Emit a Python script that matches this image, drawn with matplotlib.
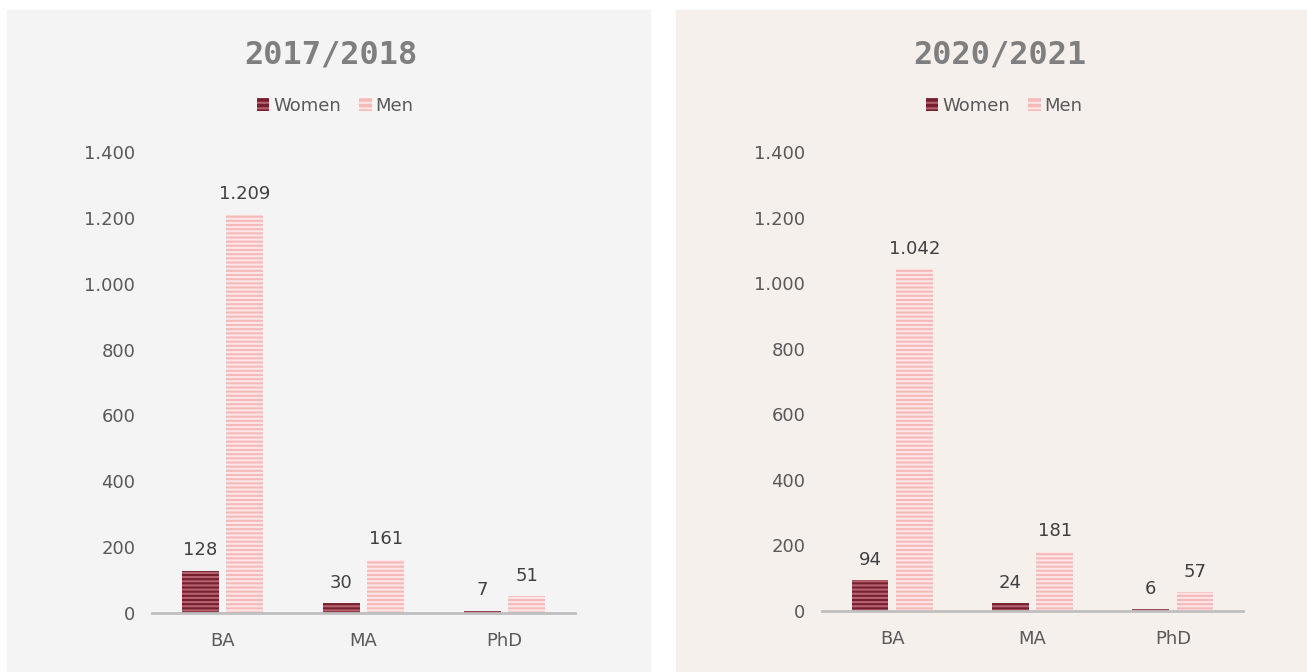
import matplotlib.pyplot as plt
from matplotlib.patches import Rectangle, Patch

# === Data ===
levels = ["BA", "MA", "PhD"]
years = ["2017/2018", "2020/2021"]
women_1718 = [128, 30, 7]
men_1718 = [1209, 161, 51]
women_2021 = [94, 24, 6]
men_2021 = [1042, 181, 57]
yticks = [0, 200, 400, 600, 800, 1000, 1200, 1400]

# === Style ===
W_FACE, W_STRIPE = "#76202f", "#b5636f"
M_FACE, M_STRIPE = "#f6b9b9", "#fde6e6"
plt.rcParams["hatch.linewidth"] = 1.5


def fmt(v):
    return f"{v:,}".replace(",", ".")


fig = plt.figure(figsize=(13.07, 6.72), dpi=100)
fig.patch.set_facecolor("white")

# panel backgrounds (drawn behind the axes)
fig.patches.append(Rectangle((7 / 1307, 0), 643 / 1307, 662 / 672,
                             transform=fig.transFigure, color="#f4f4f4", zorder=-1))
fig.patches.append(Rectangle((676 / 1307, 0), 631 / 1307, 662 / 672,
                             transform=fig.transFigure, color="#f6f0ed", zorder=-1))

panels = [
    (years[0], women_1718, men_1718, [152 / 1307, 59 / 672, 423 / 1307, 461 / 672], 331, 335),
    (years[1], women_2021, men_2021, [822 / 1307, 61 / 672, 421 / 1307, 459 / 672], 1000, 1004),
]

for title, women, men, rect, tx, lx in panels:
    ax = fig.add_axes(rect)
    ax.set_facecolor("none")
    x = range(len(levels))
    off, w = 0.158, 0.26
    bw = ax.bar([i - off for i in x], women, width=w, color=W_FACE,
                edgecolor=W_STRIPE, hatch="----", linewidth=0)
    bm = ax.bar([i + off for i in x], men, width=w, color=M_FACE,
                edgecolor=M_STRIPE, hatch="----", linewidth=0)
    for bars in (bw, bm):
        for b in bars:
            ax.text(b.get_x() + b.get_width() / 2, b.get_height() + 35,
                    fmt(int(b.get_height())), ha="center", va="bottom",
                    fontsize=13, color="#404040")
    ax.set_xlim(-0.5, 2.5)
    ax.set_ylim(0, 1400)
    ax.set_yticks(yticks)
    ax.set_yticklabels([fmt(v) for v in yticks])
    ax.set_xticks(list(x))
    ax.set_xticklabels(levels)
    ax.tick_params(axis="both", length=0, labelsize=13, colors="#595959")
    ax.tick_params(axis="x", pad=14)
    ax.tick_params(axis="y", pad=12)
    for s in ("top", "right", "left"):
        ax.spines[s].set_visible(False)
    ax.spines["bottom"].set_color("#bfbfbf")
    ax.spines["bottom"].set_linewidth(2)

    fig.text(tx / 1307, 1 - 55 / 672, title, ha="center", va="center",
             family="DejaVu Sans Mono", fontweight="bold", fontsize=23,
             color="#7f7f7f")
    handles = [Patch(facecolor=W_FACE, edgecolor=W_STRIPE, hatch="---", linewidth=0),
               Patch(facecolor=M_FACE, edgecolor=M_STRIPE, hatch="---", linewidth=0)]
    fig.legend(handles, ["Women", "Men"], loc="center",
               bbox_to_anchor=(lx / 1307, 1 - 106 / 672), ncol=2, frameon=False,
               fontsize=13, labelcolor="#595959", handlelength=0.7,
               handleheight=0.7, handletextpad=0.2, columnspacing=1.0)

fig.savefig("out.png", dpi=100)
